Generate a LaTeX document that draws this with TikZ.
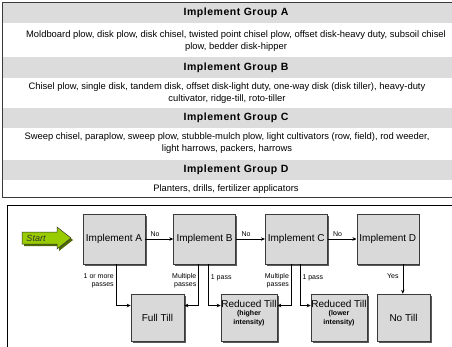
\documentclass[tikz,border=0pt]{standalone}
\usepackage{fontspec}
\setmainfont{Liberation Sans}
\newfontfamily\hdrfont[LetterSpace=5]{Liberation Sans}
\usetikzlibrary{positioning,arrows.meta,shadows}
\definecolor{bandgray}{HTML}{DCDCDC}
\definecolor{boxgray}{HTML}{D9D9D9}
\definecolor{startgreen}{HTML}{99CC00}
\definecolor{startshadow}{HTML}{4F6A00}
\definecolor{edgegray}{HTML}{3A3A3A}

\begin{document}
\begin{tikzpicture}[x=1pt, y=-1pt,
    node distance=28pt,
    band/.style={fill=bandgray, draw=none},
    grouphead/.style={font=\hdrfont\bfseries\fontsize{10.5}{12}\selectfont, inner sep=0pt},
    grouptext/.style={font=\fontsize{9.4}{11.8}\selectfont, align=center, inner sep=0pt},
    implbox/.style={rectangle, draw=edgegray, line width=0.6pt, fill=boxgray, minimum width=62pt, minimum height=50pt, inner sep=1pt, font=\fontsize{10}{12}\selectfont,
        drop shadow={shadow xshift=1.6pt, shadow yshift=-1.6pt, fill=black!65, opacity=1}},
    tillbox/.style={implbox, minimum width=53pt, minimum height=47pt},
    intenstext/.style={align=center, inner sep=0pt, font=\fontsize{7}{8.5}\selectfont\bfseries},
    lbl/.style={font=\fontsize{7}{8}\selectfont, inner sep=2pt},
    arrow/.style={-{Stealth[length=4pt, width=3.5pt]}, line width=0.6pt}
  ]
  \useasboundingbox (0,0) rectangle (452,346);

  % Implement groups table
  \fill[band] (3,3) rectangle (460,23);
  \fill[band] (3,57) rectangle (460,78);
  \fill[band] (3,108) rectangle (460,128);
  \fill[band] (3,160) rectangle (460,180);
  \draw[edgegray, line width=0.8pt] (460,2.5) -- (2.5,2.5) -- (2.5,197.5) -- (460,197.5);

  \node[grouphead] (headA) at (236,13) {Implement Group A};
  \node[grouptext] (rowA) at (236,41) {Moldboard plow, disk plow, disk chisel, twisted point chisel plow, offset disk-heavy duty, subsoil chisel\\plow, bedder disk-hipper};
  \node[grouphead] (headB) at (236,67.5) {Implement Group B};
  \node[grouptext] (rowB) at (227,93) {Chisel plow, single disk, tandem disk, offset disk-light duty, one-way disk (disk tiller), heavy-duty\\cultivator, ridge-till, roto-tiller};
  \node[grouphead] (headC) at (236,118) {Implement Group C};
  \node[grouptext] (rowC) at (227,143) {Sweep chisel, paraplow, sweep plow, stubble-mulch plow, light cultivators (row, field), rod weeder,\\light harrows, packers, harrows};
  \node[grouphead] (headD) at (236,170) {Implement Group D};
  \node[grouptext] (rowD) at (226,189) {Planters, drills, fertilizer applicators};

  % Decision flow panel
  \draw[black, line width=0.8pt] (460,205) -- (7.5,205) -- (7.5,360);

  % Start arrow
  \fill[startshadow] (24,234) -- (59,234) -- (59,229) -- (73,240) -- (59,251) -- (59,246) -- (24,246) -- cycle;
  \filldraw[fill=startgreen, draw=black!80, line width=0.5pt] (22,232) -- (57,232) -- (57,227) -- (71,238) -- (57,249) -- (57,244) -- (22,244) -- cycle;
  \node[font=\itshape\fontsize{9}{10}\selectfont, text=black!80, inner sep=0pt] (start) at (36,238) {Start};

  % Implement boxes
  \node[implbox] (implA) at (114,239) {Implement A};
  \node[implbox, right=of implA] (implB) {Implement B};
  \node[implbox, right=29pt of implB] (implC) {Implement C};
  \node[implbox, right=29pt of implC] (implD) {Implement D};

  % Tillage results
  \node[tillbox] (fulltill) at (157.5,317.5) {Full Till};
  \node[tillbox, minimum width=56pt] (redhigh) at (249,317.5) {};
  \node[intenstext] (redhightxt) at (249,313) {{\mdseries\fontsize{10}{12}\selectfont Reduced Till}\\(higher\\intensity)};
  \node[tillbox, minimum width=56pt] (redlow) at (339,317.5) {};
  \node[intenstext] (redlowtxt) at (339,313) {{\mdseries\fontsize{10}{12}\selectfont Reduced Till}\\(lower\\intensity)};
  \node[tillbox] (notill) at (403.5,317.5) {No Till};

  % Arrows
  \draw[arrow] (implA) -- node[lbl, pos=0.35, above] {No} (implB);
  \draw[arrow] (implB) -- node[lbl, pos=0.35, above] {No} (implC);
  \draw[arrow] (implC) -- node[lbl, pos=0.35, above] {No} (implD);

  \draw[arrow] ([xshift=2pt]implA.south) |- node[lbl, pos=0.2, left, align=right] {1 or more\\passes} ([yshift=12pt]fulltill.west);
  \draw[arrow] ([xshift=-6pt]implB.south) |- node[lbl, pos=0.2, left, align=right] {Multiple\\passes} ([yshift=12pt]fulltill.east);
  \draw[arrow] ([xshift=4pt]implB.south) |- node[lbl, pos=0.16, right] {1 pass} ([yshift=12pt]redhigh.west);
  \draw[arrow] ([xshift=-5pt]implC.south) |- node[lbl, pos=0.2, left, align=right] {Multiple\\passes} ([yshift=12pt]redhigh.east);
  \draw[arrow] ([xshift=4pt]implC.south) |- node[lbl, pos=0.16, right] {1 pass} ([yshift=12pt]redlow.west);

  \coordinate (yesstart) at ([xshift=15pt]implD.south);
  \draw[arrow] (yesstart) -- node[lbl, pos=0.4, left, xshift=-2pt] {Yes} (yesstart |- notill.north);
\end{tikzpicture}
\end{document}
